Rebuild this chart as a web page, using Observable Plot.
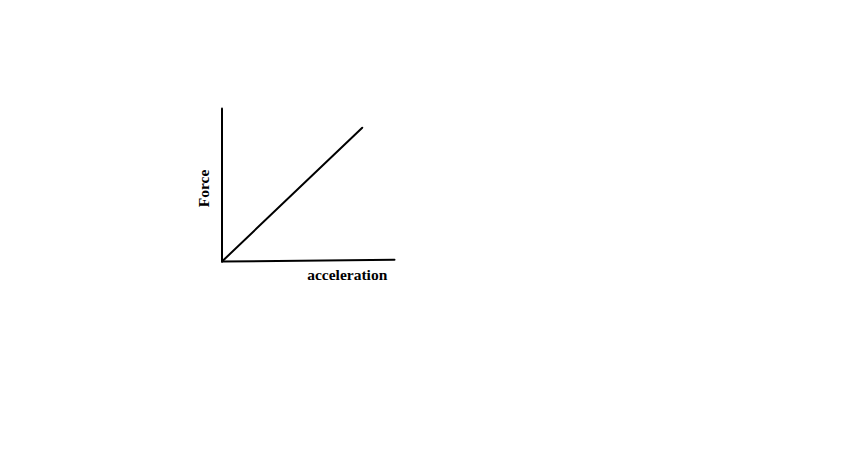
<!DOCTYPE html>
<html>
<head>
<meta charset="utf-8">
<script src="https://cdn.jsdelivr.net/npm/d3@7"></script>
<script src="https://cdn.jsdelivr.net/npm/@observablehq/plot@0.6"></script>
<style>
  html, body { margin: 0; padding: 0; background: #fff; }
</style>
</head>
<body>
<div id="chart"></div>
<script>
// Data: a schematic Force vs acceleration sketch (no numeric ticks)
const xAxisLine = [{x: 0, y: 0}, {x: 10, y: 0.12}];
const yAxisLine = [{x: 0, y: 0}, {x: 0, y: 10}];
const forceLine = [{x: 0, y: 0}, {x: 8.13, y: 8.74}];
const xLabel = "acceleration";
const yLabel = "Force";

const chart = Plot.plot({
  width: 850,
  height: 460,
  marginLeft: 221.5,
  marginRight: 456,
  marginTop: 108,
  marginBottom: 199,
  x: {domain: [0, 10], axis: null},
  y: {domain: [0, 10], axis: null},
  style: {background: "#fff", fontFamily: "'Liberation Serif', 'Times New Roman', serif"},
  marks: [
    Plot.line(yAxisLine, {x: "x", y: "y", stroke: "#000", strokeWidth: 2, clip: false}),
    Plot.line(xAxisLine, {x: "x", y: "y", stroke: "#000", strokeWidth: 2, clip: false}),
    Plot.line(forceLine, {x: "x", y: "y", stroke: "#000", strokeWidth: 2, clip: false}),
    Plot.text([xLabel], {x: 7.26, y: -1.24, text: d => d, fontWeight: "bold", fontSize: 15.5, lineAnchor: "bottom", fill: "#000"}),
    Plot.text([yLabel], {x: -1.07, y: 4.77, text: d => d, fontWeight: "bold", fontSize: 15.5, rotate: -90, fill: "#000"})
  ]
});
document.getElementById("chart").appendChild(chart);
</script>
</body>
</html>
